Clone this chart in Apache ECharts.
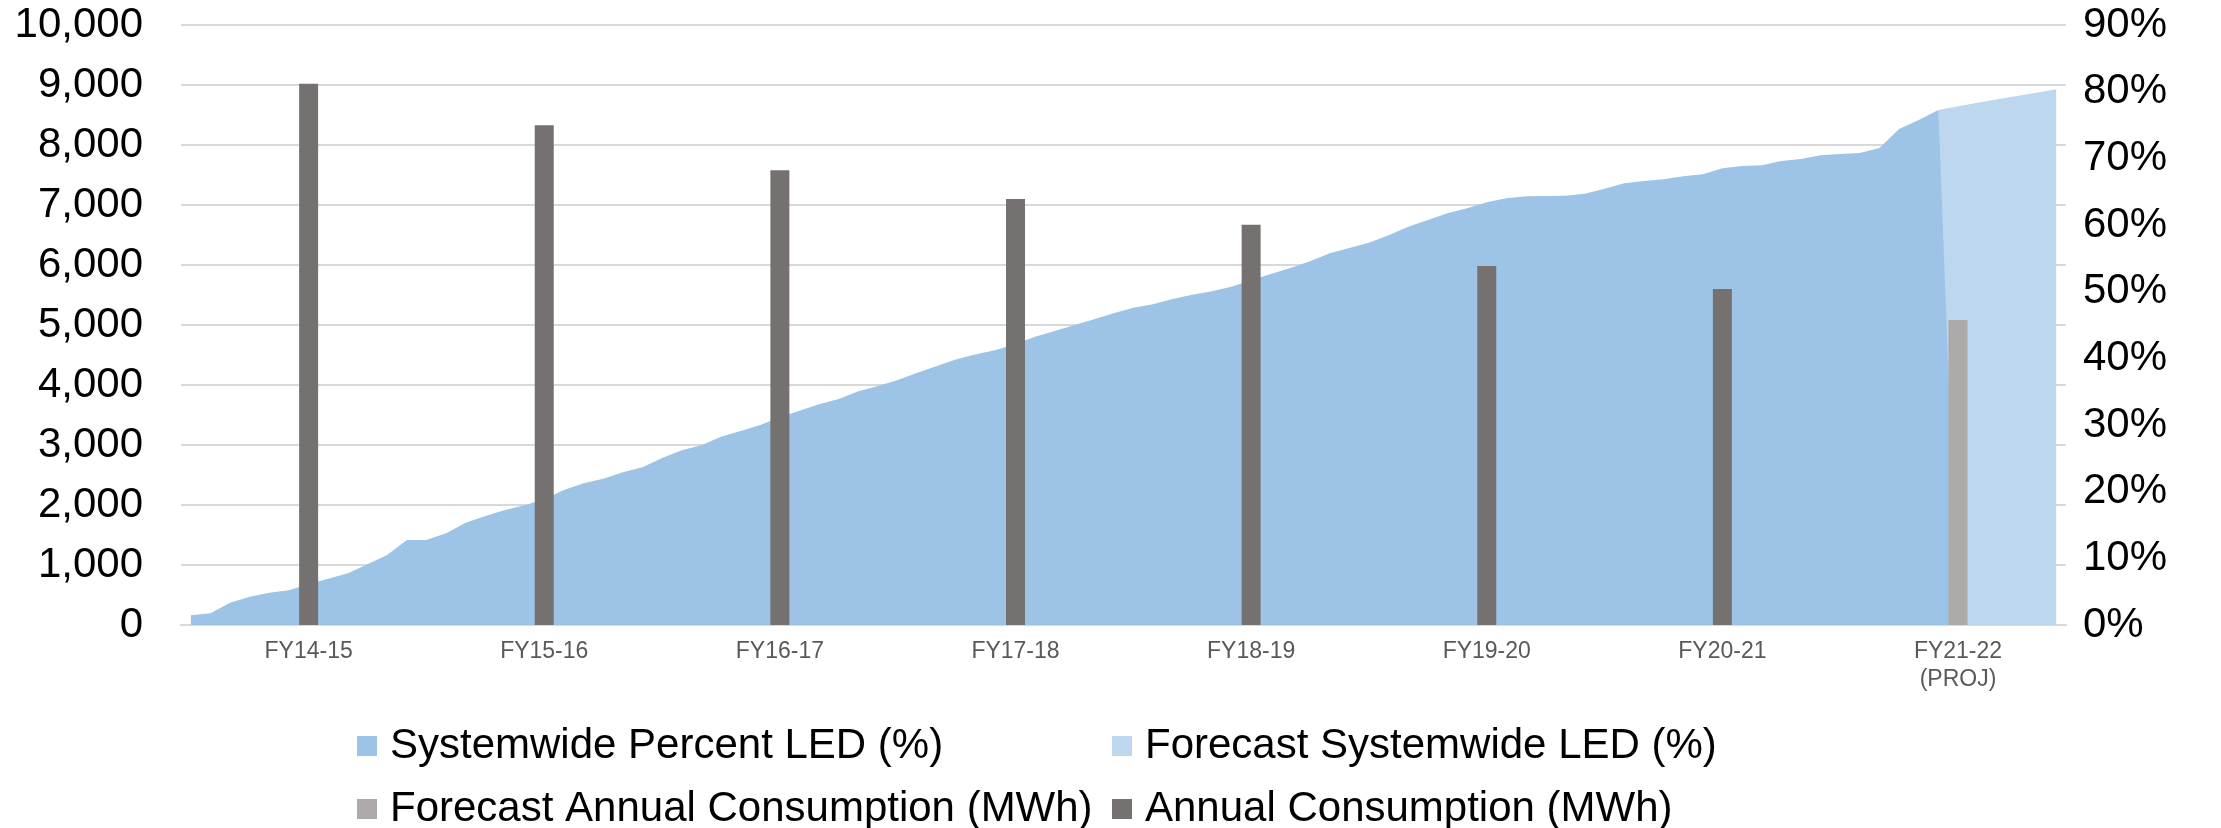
<!DOCTYPE html>
<html>
<head>
<meta charset="utf-8">
<script src="https://cdn.jsdelivr.net/npm/echarts@6/dist/echarts.min.js"></script>
<style>
html,body{margin:0;padding:0;background:#fff;}
#chart{width:2221px;height:828px;}
</style>
</head>
<body>
<div id="chart"></div>
<script>
// Fiscal-year labels (one per FY, shown at January of each FY)
const fyLabels = ['FY14-15','FY15-16','FY16-17','FY17-18','FY18-19','FY19-20','FY20-21','FY21-22\n(PROJ)'];
// Annual consumption (MWh), actual and forecast
const annualConsumption = [9020, 8330, 7580, 7100, 6670, 5985, 5600, null];
const forecastConsumption = [null, null, null, null, null, null, null, 5083];
// Monthly systemwide percent LED (%), Jul-2014 onward (actual), then 0 where actual stops
const percentLED = [
  1.45, 1.75, 3.35, 4.25, 4.85, 5.2, 6.15, 6.95, 7.75, 9.1, 10.5, 12.75,
  12.75, 13.75, 15.35, 16.35, 17.25, 17.95, 18.85, 20.25, 21.25, 21.95, 22.9, 23.65,
  25.05, 26.2, 26.95, 28.25, 29.1, 30.0, 31.15, 32.15, 33.1, 33.9, 35.05, 35.85,
  36.75, 37.85, 38.85, 39.85, 40.6, 41.25, 42.15, 43.25, 44.1, 45.0, 45.85, 46.75,
  47.6, 48.1, 48.9, 49.55, 50.05, 50.75, 51.7, 52.65, 53.55, 54.55, 55.75, 56.55,
  57.35, 58.45, 59.75, 60.75, 61.75, 62.5, 63.4, 64.0, 64.3, 64.35, 64.4, 64.7,
  65.45, 66.25, 66.6, 66.85, 67.3, 67.6, 68.5, 68.85, 68.95, 69.6, 69.9, 70.45,
  70.65, 70.8, 71.55, 74.4, 75.75, 77.25, 0
];
// Forecast systemwide LED (%), starting at the last actual month (index 89)
const forecastStart = 89;
const forecastLED = [77.25, 77.8, 78.35, 78.85, 79.35, 79.85, 80.35];
// Tick labels
const leftTicks = {min: 0, max: 10000, interval: 1000};
const rightTicks = {min: 0, max: 90, interval: 10};

// Monthly categories Jul-2014 .. Jun-2022
const monthNames = ['Jan','Feb','Mar','Apr','May','Jun','Jul','Aug','Sep','Oct','Nov','Dec'];
const months = [];
for (let i = 0; i < 96; i++) {
  const m = (6 + i) % 12;
  const y = 2014 + Math.floor((6 + i) / 12);
  months.push(monthNames[m] + '-' + String(y).slice(2));
}
// Map each FY to its January month
const fyIndex = fyLabels.map((_, k) => k * 12 + 6);
const labelAt = {};
fyIndex.forEach((idx, k) => { labelAt[idx] = fyLabels[k]; });

const barActual = months.map(() => null);
const barForecast = months.map(() => null);
fyIndex.forEach((idx, k) => { barActual[idx] = annualConsumption[k]; barForecast[idx] = forecastConsumption[k]; });

const areaActual = months.map((_, i) => i < percentLED.length ? percentLED[i] : null);
const areaForecast = months.map((_, i) => (i >= forecastStart && i - forecastStart < forecastLED.length) ? forecastLED[i - forecastStart] : null);

const FONT = 'Liberation Sans, Arial, sans-serif';
const chart = echarts.init(document.getElementById('chart'), null, {renderer: 'canvas'});
const legendBase = {
  orient: 'horizontal', itemWidth: 20, itemHeight: 20, icon: 'rect', selectedMode: false, padding: 0,
  textStyle: {fontFamily: FONT, fontSize: 42, color: '#000', lineHeight: 44, padding: [0,0,0,8]}
};
chart.setOption({
  animation: false,
  backgroundColor: '#fff',
  grid: {left: 181, right: 155, top: 25, bottom: 203, containLabel: false},
  legend: [
    Object.assign({}, legendBase, {left: 357, top: 724, data: ['Systemwide Percent LED (%)']}),
    Object.assign({}, legendBase, {left: 1112, top: 724, data: ['Forecast Systemwide LED (%)']}),
    Object.assign({}, legendBase, {left: 357, top: 787, data: ['Forecast Annual Consumption (MWh)']}),
    Object.assign({}, legendBase, {left: 1112, top: 787, data: ['Annual Consumption (MWh)']})
  ],
  xAxis: {
    type: 'category', data: months, boundaryGap: true,
    axisLine: {show: true, lineStyle: {color: '#D9D9D9', width: 2}},
    axisTick: {show: false},
    axisLabel: {
      interval: (index) => labelAt[index] !== undefined,
      formatter: (value, index) => labelAt[index] || '',
      fontFamily: FONT, fontSize: 23, lineHeight: 28, color: '#595959', margin: 13
    },
    splitLine: {show: false}
  },
  yAxis: [
    {
      type: 'value', min: leftTicks.min, max: leftTicks.max, interval: leftTicks.interval, position: 'left',
      axisLine: {show: false}, axisTick: {show: false},
      axisLabel: {fontFamily: FONT, fontSize: 42, color: '#000', margin: 38,
        formatter: (v) => v.toLocaleString('en-US')},
      splitLine: {show: true, lineStyle: {color: '#D9D9D9', width: 2}}
    },
    {
      type: 'value', min: rightTicks.min, max: rightTicks.max, interval: rightTicks.interval, position: 'right',
      axisLine: {show: false}, axisTick: {show: false},
      axisLabel: {fontFamily: FONT, fontSize: 42, color: '#000', margin: 17, formatter: '{value}%'},
      splitLine: {show: false}
    }
  ],
  series: [
    {
      name: 'Forecast Systemwide LED (%)', type: 'line', yAxisIndex: 1, data: areaForecast, z: 2,
      symbol: 'none', showSymbol: false, lineStyle: {width: 0, opacity: 0},
      itemStyle: {color: '#BDD7EE'}, areaStyle: {color: '#BDD7EE', opacity: 1}
    },
    {
      name: 'Systemwide Percent LED (%)', type: 'line', yAxisIndex: 1, data: areaActual, z: 3,
      symbol: 'none', showSymbol: false, lineStyle: {width: 0, opacity: 0},
      itemStyle: {color: '#9DC3E6'}, areaStyle: {color: '#9DC3E6', opacity: 1}
    },
    {
      name: 'Annual Consumption (MWh)', type: 'bar', yAxisIndex: 0, data: barActual, z: 5,
      barWidth: 19, barGap: '-100%', itemStyle: {color: '#767171'}
    },
    {
      name: 'Forecast Annual Consumption (MWh)', type: 'bar', yAxisIndex: 0, data: barForecast, z: 5,
      barWidth: 19, barGap: '-100%', itemStyle: {color: '#AEAAAA'}
    }
  ]
});
</script>
</body>
</html>
